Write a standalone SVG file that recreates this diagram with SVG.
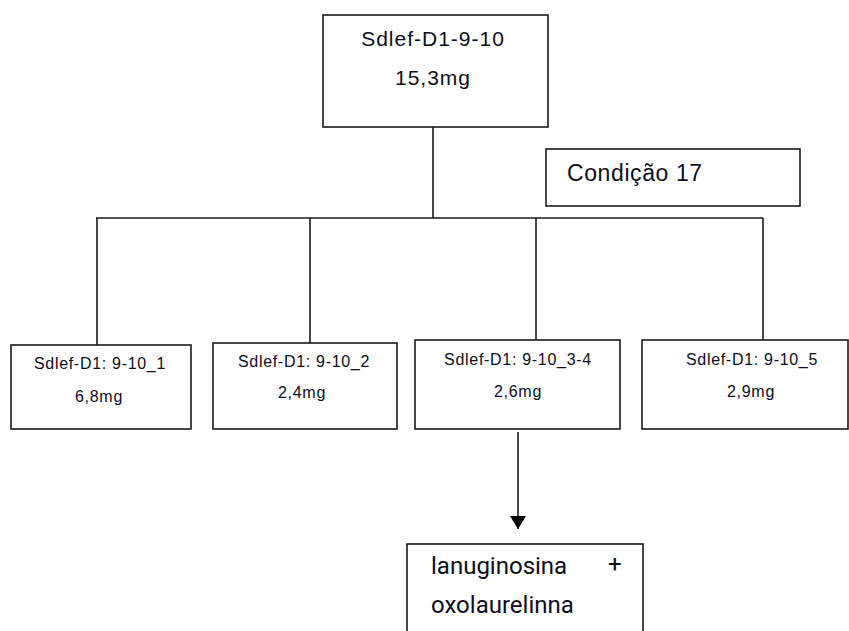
<svg xmlns="http://www.w3.org/2000/svg" width="849" height="631" viewBox="0 0 849 631">
  <defs>
    <marker id="arrow" markerWidth="13" markerHeight="16" refX="13" refY="8" orient="auto" markerUnits="userSpaceOnUse" viewBox="0 0 13 16">
      <path d="M0,0 L13,8 L0,16 Z" fill="#000"/>
    </marker>
  </defs>
  <style>
    .box { fill: #fff; stroke: #1a1a1a; stroke-width: 1.6; }
    .wire { fill: none; stroke: #1a1a1a; stroke-width: 1.6; }
    .t { font-family: "Liberation Sans", Arial, sans-serif; fill: #0d0d1a; }
    .big { font-size: 21px; letter-spacing: 1px; text-anchor: middle; }
    .cond { font-size: 23px; letter-spacing: 0.6px; }
    .small { font-size: 16px; letter-spacing: 0.7px; text-anchor: middle; }
    .res { font-family: Roboto, "Liberation Sans", sans-serif; font-size: 24px; fill: #0d0d1a; }
  </style>
  <rect width="849" height="631" fill="#fff"/>

  <!-- connectors -->
  <g id="connectors">
    <path class="wire" d="M433,127 V218"/>
    <path class="wire" d="M96,218 H763"/>
    <path class="wire" d="M97,218 V345"/>
    <path class="wire" d="M310,218 V343"/>
    <path class="wire" d="M536,218 V340"/>
    <path class="wire" d="M763,218 V340"/>
    <path class="wire" d="M518,432 V529" marker-end="url(#arrow)"/>
  </g>

  <g id="root">
    <rect class="box" x="323" y="15" width="225" height="112"/>
    <text class="t big" x="433" y="46">Sdlef-D1-9-10</text>
    <text class="t big" x="433" y="85">15,3mg</text>
  </g>

  <g id="condition">
    <rect class="box" x="546" y="149" width="254" height="57"/>
    <text class="t cond" x="567" y="181">Condição 17</text>
  </g>

  <g id="frac1">
    <rect class="box" x="11" y="345" width="180" height="84"/>
    <text class="t small" x="100" y="369">Sdlef-D1: 9-10_1</text>
    <text class="t small" x="99" y="402">6,8mg</text>
  </g>

  <g id="frac2">
    <rect class="box" x="213" y="343" width="184" height="86"/>
    <text class="t small" x="304" y="367">Sdlef-D1: 9-10_2</text>
    <text class="t small" x="302" y="398">2,4mg</text>
  </g>

  <g id="frac3">
    <rect class="box" x="415" y="340" width="205" height="89"/>
    <text class="t small" x="518" y="365">Sdlef-D1: 9-10_3-4</text>
    <text class="t small" x="518" y="397">2,6mg</text>
  </g>

  <g id="frac5">
    <rect class="box" x="642" y="340" width="206" height="89"/>
    <text class="t small" x="752" y="365">Sdlef-D1: 9-10_5</text>
    <text class="t small" x="751" y="397">2,9mg</text>
  </g>

  <g id="result">
    <rect class="box" x="407" y="544" width="236" height="100"/>
    <text class="res" x="431" y="574">lanuginosina</text>
    <text class="res" x="608" y="572" font-size="18">+</text>
    <text class="res" x="431" y="613">oxolaurelinna</text>
  </g>
</svg>
